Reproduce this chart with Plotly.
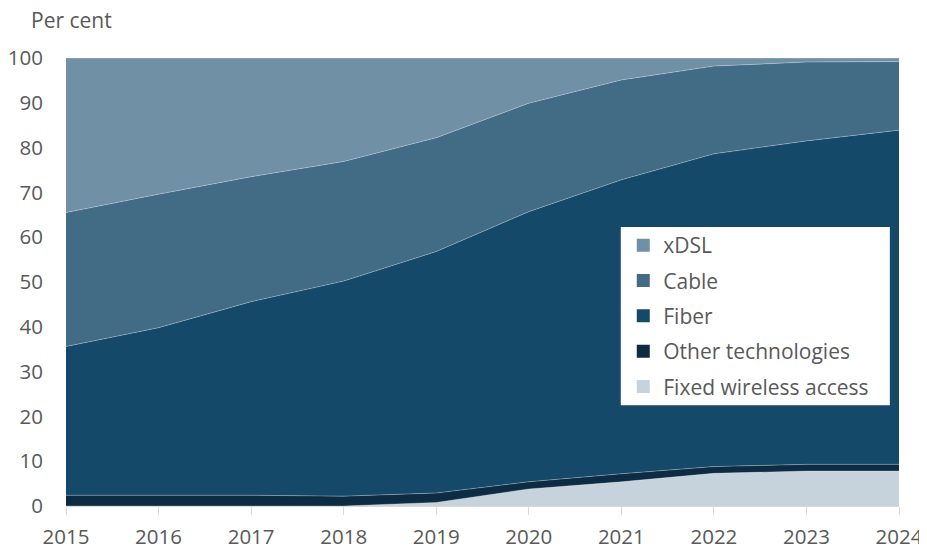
import plotly.graph_objects as go

years = [2015, 2016, 2017, 2018, 2019, 2020, 2021, 2022, 2023, 2024]

# parts in per cent, bottom to top of the stack
fwa = [0, 0, 0, 0, 0.8, 3.8, 5.4, 7.3, 7.8, 7.8]
other = [2.4, 2.4, 2.4, 2.2, 2.1, 1.6, 1.8, 1.5, 1.5, 1.5]
fiber = [33.2, 37.4, 43.2, 48.0, 53.9, 60.3, 65.6, 69.8, 72.2, 74.6]
cable = [29.9, 29.8, 27.9, 26.7, 25.4, 24.2, 22.3, 19.6, 17.6, 15.3]
xdsl = [34.5, 30.4, 26.5, 23.1, 17.8, 10.1, 4.9, 1.8, 0.9, 0.8]

series = [
    ("Fixed wireless access", fwa, "#C6D3DC"),
    ("Other technologies", other, "#0D2B42"),
    ("Fiber", fiber, "#15496A"),
    ("Cable", cable, "#426B86"),
    ("xDSL", xdsl, "#7090A5"),
]

fig = go.Figure()
for i, (name, vals, col) in enumerate(series):
    fig.add_trace(go.Scatter(
        x=years, y=vals, name=name, mode="lines",
        stackgroup="one", fillcolor=col,
        line=dict(color="rgba(255,255,255,0.35)", width=0.8),
        hoverinfo="skip", showlegend=False,
    ))
    # square legend keys, xDSL on top
    fig.add_trace(go.Scatter(
        x=[None], y=[None], name=name, mode="markers",
        marker=dict(symbol="square", size=13, color=col),
        legendgroup=name, legendrank=len(series) - i, showlegend=True,
    ))

# white panel behind the legend (the legend box itself only fits the text)
fig.add_shape(
    type="rect", xref="paper", yref="paper",
    x0=0.666, x1=0.989, y0=0.225, y1=0.623,
    fillcolor="white", line_width=0, layer="above",
)

# page body has an 8px margin, so the figure is 8px smaller
fig.update_layout(
    width=919, height=541,
    margin=dict(l=58, r=28, t=50, b=43, autoexpand=False),
    paper_bgcolor="white", plot_bgcolor="white",
    font=dict(family="Open Sans", size=20.5, color="#595959"),
    showlegend=True,
    legend=dict(
        traceorder="grouped", tracegroupgap=5,
        x=0.669, y=0.627, xanchor="left", yanchor="top",
        bgcolor="rgba(0,0,0,0)", borderwidth=0,
        font=dict(size=21, color="#595959"),
    ),
    annotations=[dict(
        text="Per cent", xref="paper", yref="paper",
        x=-0.045, y=1.085, xanchor="left", yanchor="middle",
        showarrow=False, font=dict(size=21, color="#595959"),
    )],
)
fig.update_xaxes(
    range=[2015, 2024], tickvals=years, showgrid=False, automargin=False,
    ticks="outside", ticklen=8, tickcolor="#d9d9d9", ticklabelstandoff=4,
    showline=True, linecolor="#d9d9d9", linewidth=1, zeroline=False,
)
fig.update_yaxes(
    range=[0, 100], dtick=10, showgrid=True, gridcolor="#d9d9d9",
    zeroline=False, ticks="", ticklabelstandoff=22, automargin=False,
)

fig.write_html("out.html")
